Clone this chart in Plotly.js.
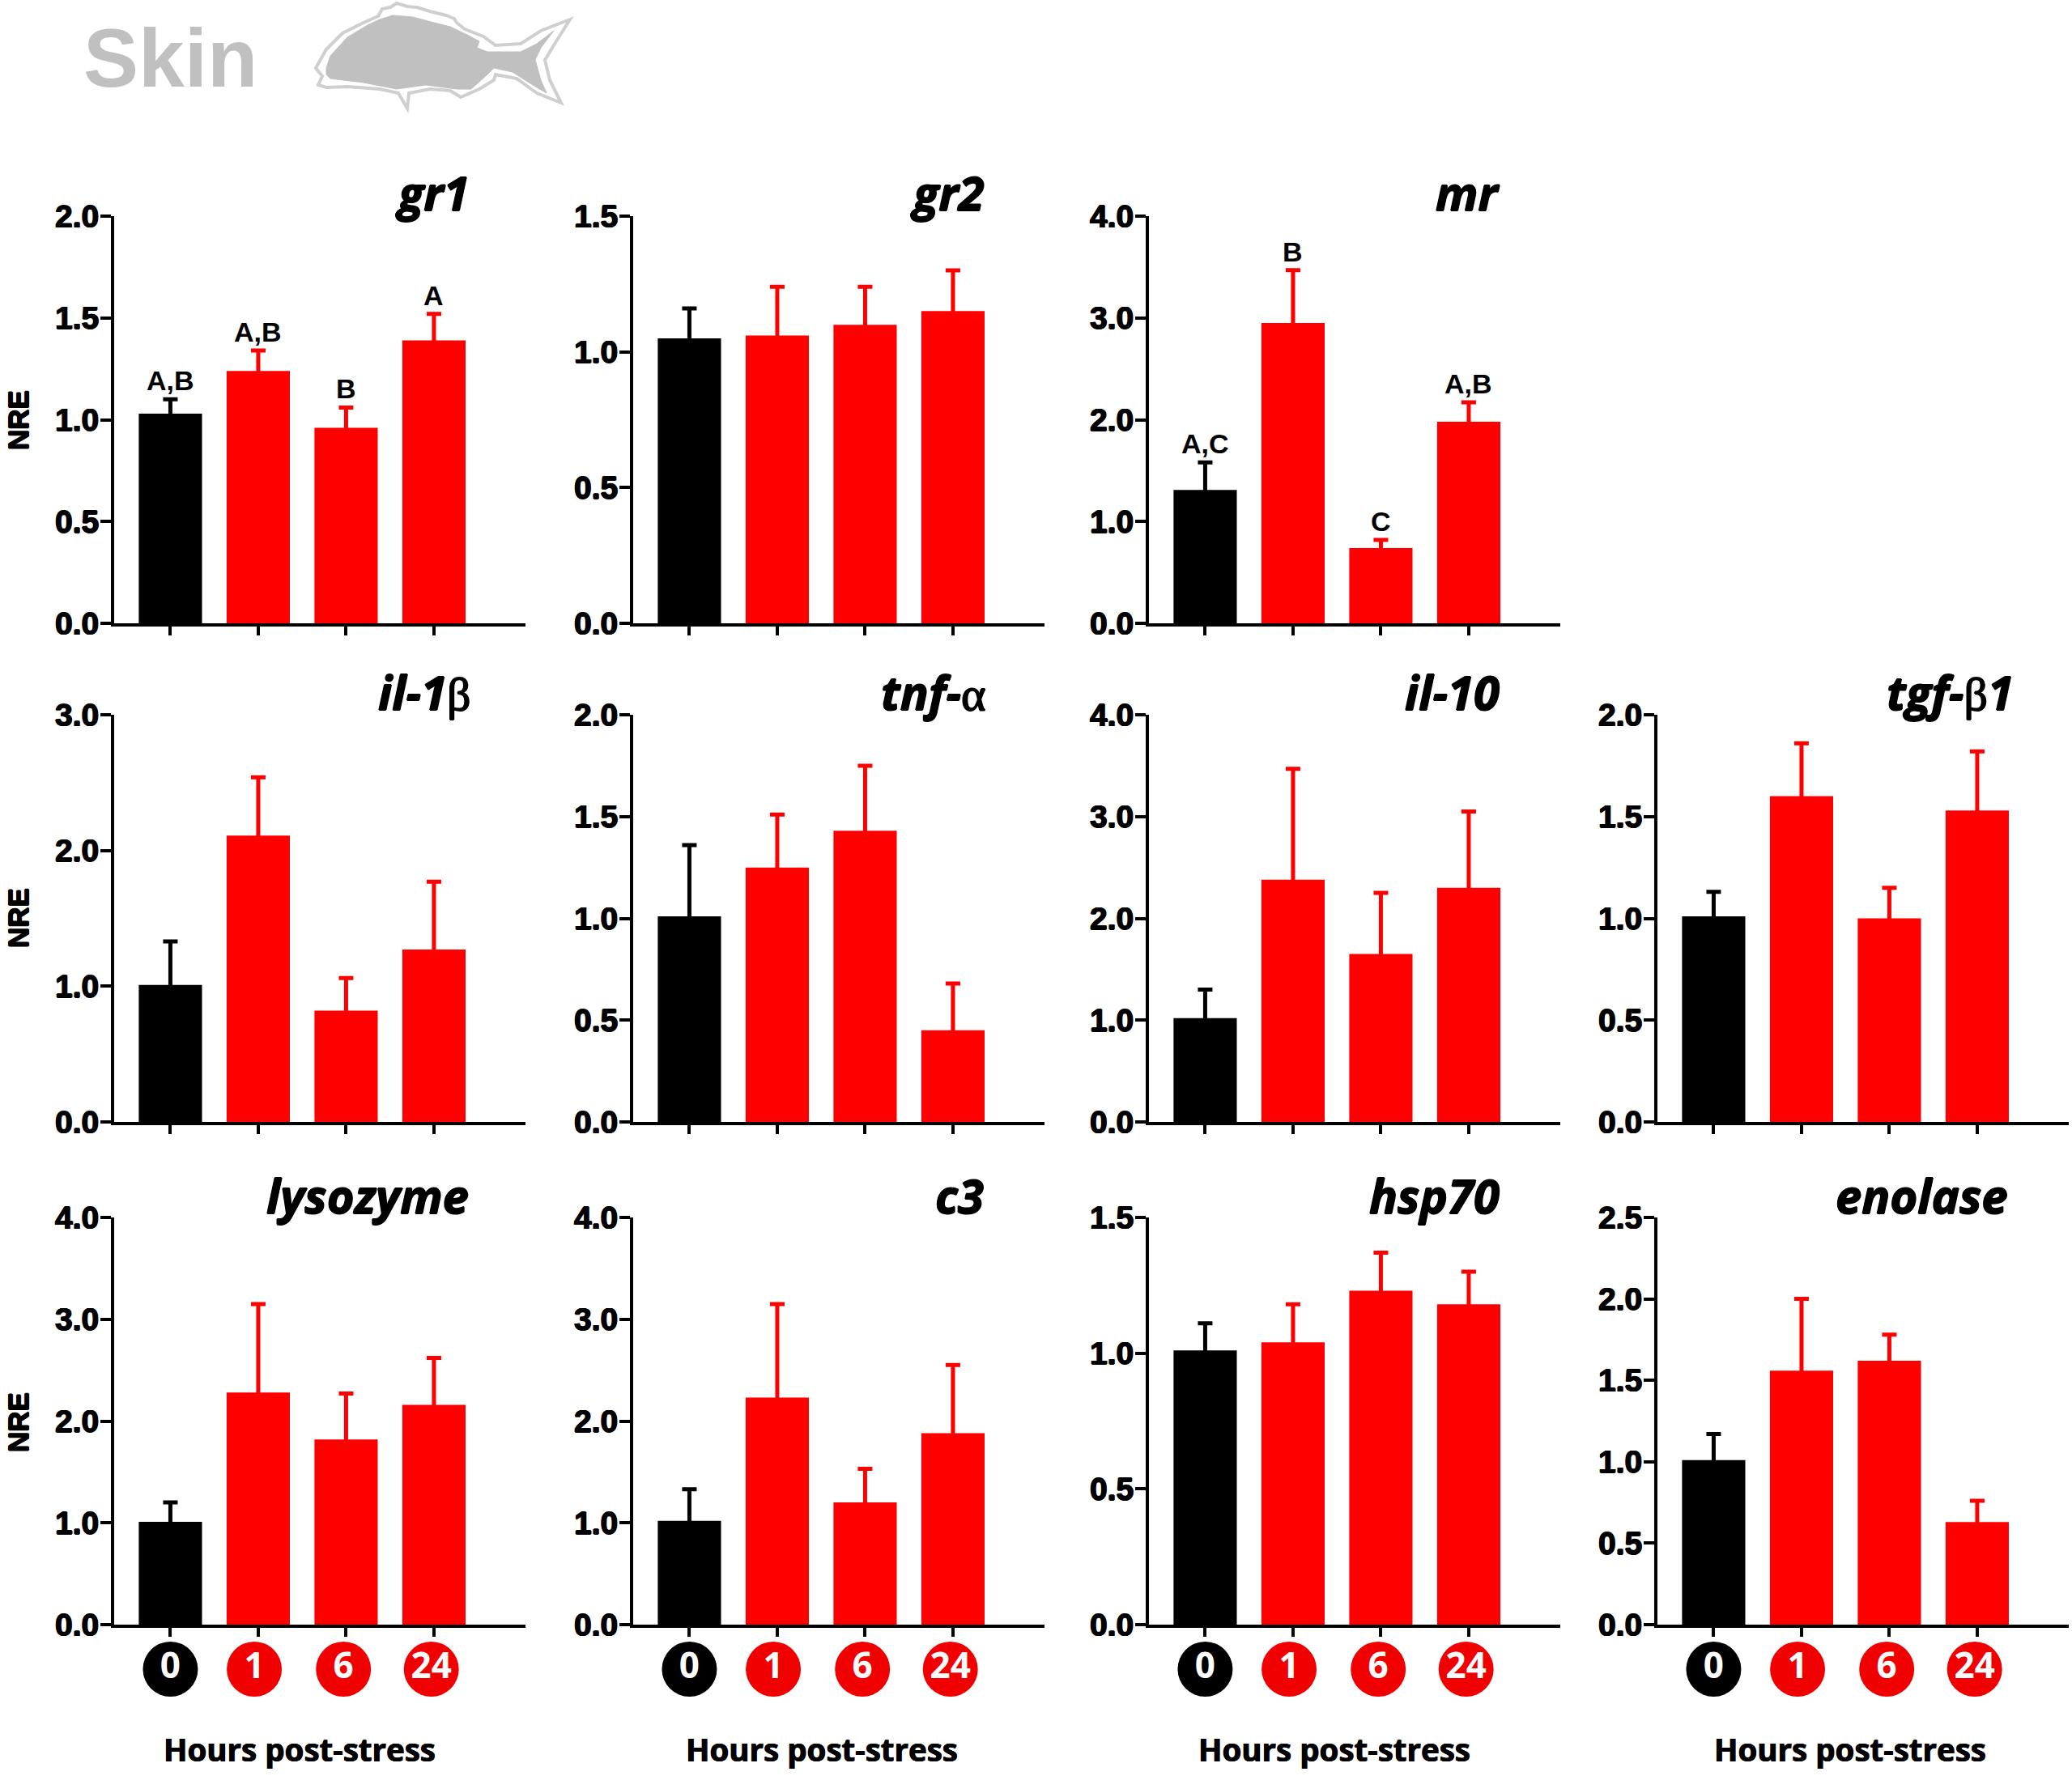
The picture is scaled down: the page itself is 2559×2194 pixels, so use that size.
<!DOCTYPE html>
<html>
<head>
<meta charset="utf-8">
<script src="https://cdn.plot.ly/plotly-3.0.1.min.js"></script>
<style>html, body { margin: 0; padding: 0; background: #fff; }</style>
</head>
<body>
<div id="chart" style="width:2559px;height:2194px"></div>
<script>
const W = 2559, H = 2194;

const hours = ['0', '1', '6', '24'];

// one array per gene: bar heights, then the height of the error bar above the bar
const gr1 = [1.03, 1.24, 0.96, 1.39],      gr1Err = [0.07, 0.10, 0.10, 0.13];
const gr2 = [1.05, 1.06, 1.10, 1.15],      gr2Err = [0.11, 0.18, 0.14, 0.15];
const mr = [1.31, 2.95, 0.74, 1.98],       mrErr = [0.27, 0.52, 0.08, 0.19];
const il1b = [1.01, 2.11, 0.82, 1.27],     il1bErr = [0.32, 0.43, 0.24, 0.50];
const tnfa = [1.01, 1.25, 1.43, 0.45],     tnfaErr = [0.35, 0.26, 0.32, 0.23];
const il10 = [1.02, 2.38, 1.65, 2.30],     il10Err = [0.28, 1.09, 0.60, 0.75];
const tgfb1 = [1.01, 1.60, 1.00, 1.53],    tgfb1Err = [0.12, 0.26, 0.15, 0.29];
const lysozyme = [1.01, 2.28, 1.82, 2.16], lysozymeErr = [0.19, 0.87, 0.45, 0.46];
const c3 = [1.02, 2.23, 1.20, 1.88],       c3Err = [0.31, 0.92, 0.33, 0.67];
const hsp70 = [1.01, 1.04, 1.23, 1.18],    hsp70Err = [0.10, 0.14, 0.14, 0.12];
const enolase = [1.01, 1.56, 1.62, 0.63],  enolaseErr = [0.16, 0.44, 0.16, 0.13];

const gr1Letters = ['A,B', 'A,B', 'B', 'A'];
const mrLetters = ['A,C', 'B', 'C', 'A,B'];

const SANS = 'Liberation Sans';
const OPEN = 'Open Sans';
// the reference glyphs are heavier than the installed bold, thicken them a little
const HEAVY = '0.8px 0 0 #000, -0.8px 0 0 #000, 0 0.6px 0 #000, 0 -0.6px 0 #000';
const SYM = s => `<span style="font-family:Liberation Serif;font-weight:normal;font-style:normal">${s}</span>`;

const colLeft = [141, 782, 1419, 2047];
const colWidth = 508;
const rowTop = [267, 883, 1504];
const rowHeight = 503;
// x range puts the four bars where they sit relative to the y axis line
const xRange = [-0.64, 4.042];
const circleX = [0, 0.955, 1.97, 2.97];

const panels = [
  { title: '<i>gr1</i>', dx: 441, vals: gr1, err: gr1Err, ymax: 2, step: 0.5, col: 0, row: 0, letters: gr1Letters },
  { title: '<i>gr2</i>', dx: 436, vals: gr2, err: gr2Err, ymax: 1.5, step: 0.5, col: 1, row: 0 },
  { title: '<i>mr</i>', dx: 435, vals: mr, err: mrErr, ymax: 4, step: 1, col: 2, row: 0, letters: mrLetters },
  { title: '<i>il-1</i>' + SYM('β'), dx: 443, vals: il1b, err: il1bErr, ymax: 3, step: 1, col: 0, row: 1 },
  { title: '<i>tnf-</i>' + SYM('α'), dx: 438, vals: tnfa, err: tnfaErr, ymax: 2, step: 0.5, col: 1, row: 1 },
  { title: '<i>il-10</i>', dx: 435, vals: il10, err: il10Err, ymax: 4, step: 1, col: 2, row: 1 },
  { title: '<i>tgf-</i>' + SYM('β') + '<i>1</i>', dx: 442, vals: tgfb1, err: tgfb1Err, ymax: 2, step: 0.5, col: 3, row: 1 },
  { title: '<i>lysozyme</i>', dx: 440, vals: lysozyme, err: lysozymeErr, ymax: 4, step: 1, col: 0, row: 2 },
  { title: '<i>c3</i>', dx: 435, vals: c3, err: c3Err, ymax: 4, step: 1, col: 1, row: 2 },
  { title: '<i>hsp70</i>', dx: 435, vals: hsp70, err: hsp70Err, ymax: 1.5, step: 0.5, col: 2, row: 2 },
  { title: '<i>enolase</i>', dx: 435, vals: enolase, err: enolaseErr, ymax: 2.5, step: 0.5, col: 3, row: 2 },
];

const px = x => x / W;
const py = y => 1 - y / H;

const traces = [];
const layout = {
  width: W, height: H,
  margin: { l: 0, r: 0, t: 0, b: 0 },
  paper_bgcolor: '#fff', plot_bgcolor: 'rgba(0,0,0,0)',
  showlegend: false,
  barmode: 'overlay',
  annotations: [],
  shapes: [],
};

function note(text, x, y, size, opts = {}) {
  layout.annotations.push(Object.assign({
    text, x: px(x), y: py(y), xref: 'paper', yref: 'paper', showarrow: false,
    xanchor: 'center', yanchor: 'middle',
    font: { family: SANS, size, color: '#000', weight: 700, shadow: HEAVY },
  }, opts));
}

panels.forEach((p, i) => {
  const n = i + 1;
  const xa = n === 1 ? 'x' : 'x' + n;
  const ya = n === 1 ? 'y' : 'y' + n;
  const left = colLeft[p.col], top = rowTop[p.row];

  const ticks = [];
  for (let k = 0; k <= Math.round(p.ymax / p.step); k++) ticks.push(k * p.step);

  layout['xaxis' + (n === 1 ? '' : n)] = {
    domain: [px(left), px(left + colWidth)], range: xRange, anchor: ya,
    tickmode: 'array', tickvals: [0, 1, 2, 3], showticklabels: false,
    ticks: 'outside', ticklen: 11, tickwidth: 4, tickcolor: '#000',
    showline: true, linewidth: 4, linecolor: '#000', showgrid: false, zeroline: false,
  };
  layout['yaxis' + (n === 1 ? '' : n)] = {
    domain: [py(top + rowHeight), py(top)], range: [0, p.ymax], anchor: xa,
    tickmode: 'array', tickvals: ticks, ticktext: ticks.map(t => t.toFixed(1)),
    ticks: 'outside', ticklen: 13, tickwidth: 4, tickcolor: '#000',
    ticklabelstandoff: -6,
    tickfont: { family: SANS, size: 39, color: '#000', weight: 700, shadow: HEAVY },
    showline: true, linewidth: 4, linecolor: '#000', showgrid: false, zeroline: false,
  };

  // control and stressed bars are separate traces, error_y colour is per trace.
  // the lower cap is tucked inside the bar so it does not poke out of the top
  [[[0], '#000000'], [[1, 2, 3], '#ff0000']].forEach(([idx, color]) => {
    traces.push({
      type: 'bar', xaxis: xa, yaxis: ya,
      x: idx, y: idx.map(k => p.vals[k]), width: 0.72,
      marker: { color, line: { width: 0 } },
      error_y: {
        type: 'data', symmetric: false, array: idx.map(k => p.err[k]),
        arrayminus: idx.map(() => p.ymax * 0.02), color, thickness: 5, width: 9,
      },
      hoverinfo: 'skip',
    });
  });

  note(p.title, left + p.dx, [237, 854, 1476][p.row], 58, {
    xanchor: 'right',
    font: { family: OPEN, size: 58, color: '#000', weight: 700, shadow: HEAVY },
  });

  if (p.letters) {
    p.letters.forEach((t, k) => {
      layout.annotations.push({
        text: t, x: k, y: p.vals[k] + p.err[k], xref: xa, yref: ya, showarrow: false,
        xanchor: 'center', yanchor: 'bottom', yshift: 2,
        font: { family: SANS, size: 34, color: '#000', weight: 700 },
      });
    });
  }
});

// hour badges under the bottom row sit in their own strip axes
[0, 1, 2, 3].forEach(c => {
  const n = 20 + c;
  const left = colLeft[c];
  layout['xaxis' + n] = { domain: [px(left), px(left + colWidth)], range: xRange, visible: false, anchor: 'y' + n };
  layout['yaxis' + n] = { domain: [py(2102), py(2022)], range: [-1, 1], visible: false, anchor: 'x' + n };
  traces.push({
    type: 'scatter', mode: 'markers+text', xaxis: 'x' + n, yaxis: 'y' + n,
    x: circleX, y: hours.map(() => 0), text: hours, textposition: 'middle center',
    textfont: { family: OPEN, size: 44, color: '#fff', weight: 700 },
    marker: { size: 68, color: ['#000000', '#f00000', '#f00000', '#f00000'], line: { width: 0 } },
    cliponaxis: false, hoverinfo: 'skip',
  });
  note('Hours post-stress', [370, 1015, 1648, 2285][c], 2161, 38.5, {
    font: { family: OPEN, size: 38.5, color: '#000', weight: 700, shadow: '0.5px 0 0 #000, -0.5px 0 0 #000' },
  });
});

[519, 1134, 1757].forEach(y => note('NRE', 22, y, 35, { textangle: -90 }));

note('Skin', 210, 72, 102, {
  font: { family: SANS, size: 102, color: '#c0c0c0', weight: 700 },
});

// fish silhouette next to the header, traced in page pixels
const fishOutline = [[390, 84], [403, 61], [423, 41], [449, 28], [467, 20], [472, 11], [482, 9], [490, 4], [503, 8], [515, 9], [531, 14], [551, 19], [561, 23], [564, 28], [574, 36], [597, 45], [612, 56], [643, 54], [668, 38], [704, 24], [687, 51], [673, 74], [679, 99], [693, 127], [663, 115], [638, 97], [612, 92], [610, 99], [592, 110], [569, 120], [556, 112], [531, 110], [505, 115], [503, 134], [492, 115], [469, 110], [429, 107], [403, 108], [393, 105], [398, 94]];
const fishBody = [[403, 84], [408, 69], [429, 46], [454, 31], [469, 24], [485, 19], [510, 21], [536, 28], [556, 33], [577, 43], [592, 51], [589, 59], [602, 64], [643, 64], [663, 54], [684, 38], [668, 59], [661, 74], [668, 99], [675, 115], [658, 105], [633, 89], [610, 84], [602, 92], [582, 110], [564, 110], [526, 105], [490, 110], [449, 102], [408, 97], [403, 92]];
const toPath = pts => pts.map((q, k) => (k ? 'L' : 'M') + px(q[0]) + ',' + py(q[1])).join(' ') + ' Z';
layout.shapes.push(
  { type: 'path', xref: 'paper', yref: 'paper', path: toPath(fishOutline), fillcolor: '#fff', line: { color: '#cfcfcf', width: 4 } },
  { type: 'path', xref: 'paper', yref: 'paper', path: toPath(fishBody), fillcolor: '#c0c0c0', line: { color: '#c0c0c0', width: 1 } },
);

Plotly.newPlot('chart', traces, layout, { displayModeBar: false, responsive: false });
</script>
</body>
</html>
